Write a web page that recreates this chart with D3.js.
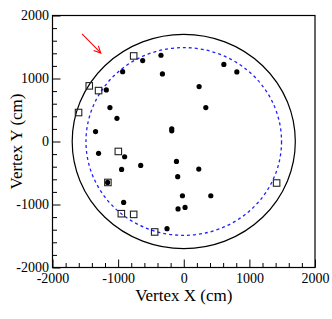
<!DOCTYPE html>
<html><head><meta charset="utf-8">
<script src="https://cdn.jsdelivr.net/npm/d3@7"></script>
<style>html,body{margin:0;padding:0;background:#fff;}svg{display:block;}</style>
</head><body>
<script>
// ---- data ----
const dotX = [-626,-931,-1180,-347,-325,234,611,809,336,-183,-183,-1125,-1018,-1344,-1298,-901,-947,-656,-111,229,-92,-20,412,-87,20,-255,-916,-1160];
const dotY = [1284,1109,819,1369,1073,872,1223,1105,539,201,170,539,368,158,-187,-242,-444,-380,-317,-437,-559,-861,-861,-1071,-1046,-1384,-967,-650];
const sqX = [-763,-1440,-1298,-1603,-997,-1156,-951,-763,-443,1415];
const sqY = [1358,883,808,460,-158,-650,-1146,-1157,-1436,-659];
const circleRadii = [1700, 1490];          // outer solid, inner dashed
const arrowFrom = [-1550, 1710];
const arrowTo = [-1265, 1405];
const majorTicks = [-2000,-1000,0,1000,2000];
const minorTicks = d3.range(-2000, 2001, 200).filter(v => v % 1000 !== 0);
const xTitle = "Vertex X (cm)";
const yTitle = "Vertex Y (cm)";

// ---- layout ----
const W = 332, H = 319;
const L = 52.5, R = 315, T = 15.5, B = 267.5;
const svg = d3.select("body").append("svg").attr("width", W).attr("height", H);
const x = d3.scaleLinear().domain([-2000, 2000]).range([L, R]);
const y = d3.scaleLinear().domain([-2000, 2000]).range([B, T]);
const font = "'Liberation Serif','Times New Roman',serif";

// circles
const circStyles = [{stroke:"#000", dash:null, w:1.2}, {stroke:"#2020ff", dash:"3,3", w:1.3}];
circleRadii.forEach((r, i) => {
  svg.append("ellipse")
    .attr("cx", x(0)).attr("cy", y(0))
    .attr("rx", x(r) - x(0)).attr("ry", y(0) - y(r))
    .attr("fill", "none").attr("stroke", circStyles[i].stroke)
    .attr("stroke-width", circStyles[i].w)
    .attr("stroke-dasharray", circStyles[i].dash);
});

// dots
svg.append("g").selectAll("circle").data(dotX.map((v, i) => [v, dotY[i]])).join("circle")
  .attr("cx", d => x(d[0])).attr("cy", d => y(d[1])).attr("r", 2.6).attr("fill", "#000");

// squares
const s = 6.5;
svg.append("g").selectAll("rect").data(sqX.map((v, i) => [v, sqY[i]])).join("rect")
  .attr("x", d => x(d[0]) - s / 2).attr("y", d => y(d[1]) - s / 2)
  .attr("width", s).attr("height", s)
  .attr("fill", "none").attr("stroke", "#222").attr("stroke-width", 1.1);

// arrow
const ax1 = x(arrowFrom[0]), ay1 = y(arrowFrom[1]), ax2 = x(arrowTo[0]), ay2 = y(arrowTo[1]);
const ang = Math.atan2(ay2 - ay1, ax2 - ax1), hl = 7.5, ha = 0.45;
svg.append("line").attr("x1", ax1).attr("y1", ay1).attr("x2", ax2).attr("y2", ay2)
  .attr("stroke", "#ff0000").attr("stroke-width", 1.1);
svg.append("path")
  .attr("d", `M${ax2 - hl * Math.cos(ang - ha)},${ay2 - hl * Math.sin(ang - ha)}L${ax2},${ay2}L${ax2 - hl * Math.cos(ang + ha)},${ay2 - hl * Math.sin(ang + ha)}`)
  .attr("fill", "none").attr("stroke", "#ff0000").attr("stroke-width", 1.1);

// axes
const gx = svg.append("g").attr("transform", `translate(0,${B})`);
gx.call(d3.axisBottom(x).tickValues(majorTicks).tickSize(-8).tickSizeOuter(0).tickPadding(6).tickFormat(d3.format("d")));
const gxm = svg.append("g").attr("transform", `translate(0,${B})`);
gxm.call(d3.axisBottom(x).tickValues(minorTicks).tickSize(-4.5).tickSizeOuter(0).tickFormat(""));
const gy = svg.append("g").attr("transform", `translate(${L},0)`);
gy.call(d3.axisLeft(y).tickValues(majorTicks).tickSize(-8).tickSizeOuter(0).tickPadding(3.5).tickFormat(d3.format("d")));
const gym = svg.append("g").attr("transform", `translate(${L},0)`);
gym.call(d3.axisLeft(y).tickValues(minorTicks).tickSize(-4.5).tickSizeOuter(0).tickFormat(""));
svg.selectAll(".domain").remove();
svg.selectAll(".tick line").attr("stroke", "#000").attr("stroke-width", 1);
svg.selectAll(".tick text").attr("font-family", font).attr("font-size", 14).attr("fill", "#000")
  .text(function() { return this.textContent.replace("−", "-"); });

// frame
svg.append("rect").attr("x", L).attr("y", T).attr("width", R - L).attr("height", B - T)
  .attr("fill", "none").attr("stroke", "#000").attr("stroke-width", 1.2);

// titles
svg.append("text").attr("x", (L + R) / 2).attr("y", 301).attr("text-anchor", "middle")
  .attr("font-family", font).attr("font-size", 17).text(xTitle);
svg.append("text").attr("transform", `translate(21.5,${(T + B) / 2}) rotate(-90)`).attr("text-anchor", "middle")
  .attr("font-family", font).attr("font-size", 17).text(yTitle);
</script>
</body></html>
